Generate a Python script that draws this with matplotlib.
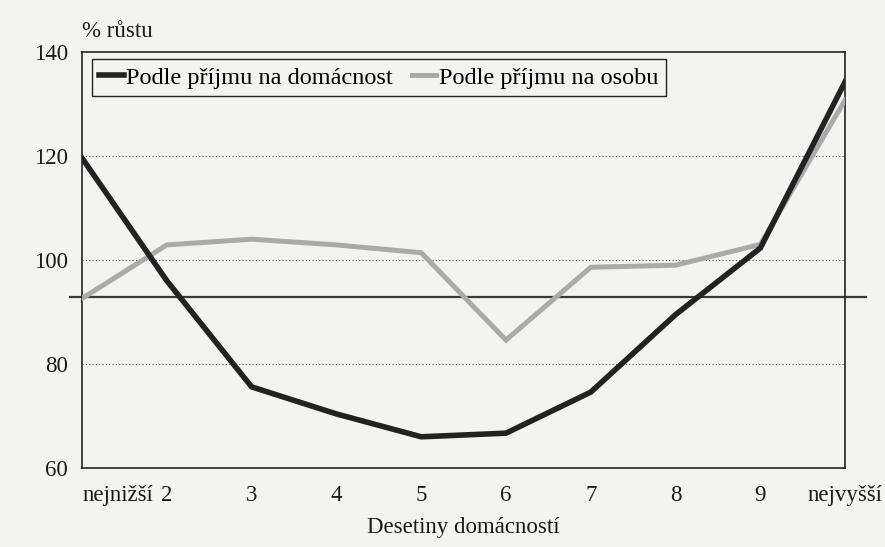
import numpy as np
import matplotlib as mpl
import matplotlib.pyplot as plt

mpl.rcParams['font.family'] = ['Liberation Serif', 'DejaVu Serif']

# values
deciles = ['nejnižší', '2', '3', '4', '5', '6', '7', '8', '9', 'nejvyšší']
na_domacnost = [119.6, 96.0, 75.6, 70.4, 66.0, 66.7, 74.6, 89.5, 102.3, 134.3]
na_osobu = [92.6, 102.9, 104.0, 102.9, 101.4, 84.6, 98.6, 99.0, 103.0, 130.8]
prumer = 92.9  # the flat reference line
yticks = [60, 80, 100, 120, 140]

bg = '#f3f3f1'
fig = plt.figure(figsize=(8.85, 5.47), dpi=100, facecolor=bg)
ax = fig.add_axes([0.0927, 0.1444, 0.8623, 0.7606], facecolor=bg)

x = np.arange(len(deciles))

# dotted grid
for v in yticks[1:-1]:
    ax.axhline(v, color='#555555', lw=0.8, ls=(0, (1, 2)), zorder=1)

# reference line sticks out past the frame
ax.axhline(prumer, xmin=-0.016, xmax=1.027, color='#3a3a3a', lw=1.6,
           clip_on=False, zorder=2)

ax.plot(x, na_osobu, color='#aaaaaa', lw=3.6, solid_joinstyle='miter',
        label='Podle příjmu na osobu', zorder=3)
ax.plot(x, na_domacnost, color='#222222', lw=4.0, solid_joinstyle='miter',
        label='Podle příjmu na domácnost', zorder=4)

ax.set_xlim(0, 9)
ax.set_ylim(60, 140)
ax.set_yticks(yticks)
ax.set_xticks(x)
ax.set_xticklabels(deciles)
ax.get_xticklabels()[0].set_horizontalalignment('left')
ax.tick_params(axis='both', length=0, labelsize=16.5, colors='#1a1a1a')
ax.tick_params(axis='x', pad=12)
ax.tick_params(axis='y', pad=10)

for s in ax.spines.values():
    s.set_color('#222222')
    s.set_linewidth(1.2)

ax.set_xlabel('Desetiny domácností', fontsize=16.5, color='#1a1a1a', labelpad=8)
fig.text(0.0927, 0.9415, '% růstu', fontsize=16.5, color='#1a1a1a', ha='left', va='center')

h, l = ax.get_legend_handles_labels()
leg = ax.legend(h[::-1], l[::-1], loc='upper left', bbox_to_anchor=(0.013, 0.982),
                ncol=2, fontsize=17.5, frameon=True, fancybox=False,
                handlelength=1.0, handletextpad=0.1, columnspacing=0.8,
                borderpad=0.3, borderaxespad=0)
leg.get_frame().set_edgecolor('#222222')
leg.get_frame().set_linewidth(1.0)
leg.get_frame().set_facecolor(bg)
leg.get_frame().set_alpha(1)

plt.savefig('out.png', dpi=100, facecolor=bg)
